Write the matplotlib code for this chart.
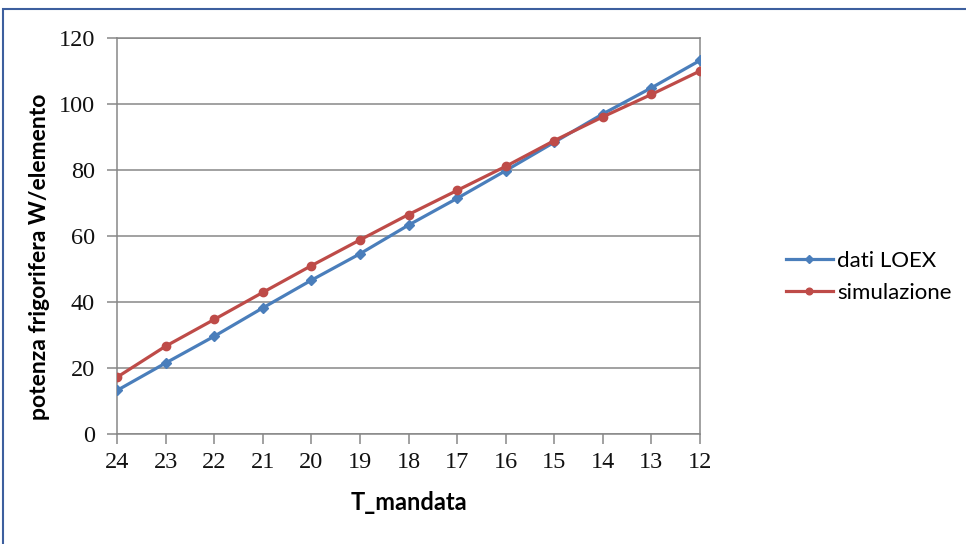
import matplotlib
matplotlib.use("Agg")
import matplotlib.pyplot as plt
from matplotlib.patches import Rectangle

categories = ["24", "23", "22", "21", "20", "19", "18", "17", "16", "15", "14", "13", "12"]
dati_loex = [13.2, 21.5, 29.6, 38.2, 46.6, 54.6, 63.3, 71.4, 79.8, 88.4, 97.0, 104.9, 113.2]
simulazione = [17.2, 26.6, 34.7, 42.9, 51.0, 58.8, 66.5, 73.8, 81.1, 88.9, 96.1, 102.9, 110.0]
y_ticks = [0, 20, 40, 60, 80, 100, 120]

W, H = 966, 544
fig = plt.figure(figsize=(W / 100, H / 100), dpi=100)
fig.patch.set_facecolor("white")

# outer frame (dark blue, cropped on right/bottom)
fig.add_artist(Rectangle((3 / W, -0.1), 1.2, 1 - 9 / H + 0.1, transform=fig.transFigure,
                         fill=False, edgecolor="#3d5f9e", linewidth=1.5))

ax_l, ax_r, ax_t, ax_b = 117, 700, 38, 434
ax = fig.add_axes([ax_l / W, 1 - ax_b / H, (ax_r - ax_l) / W, (ax_b - ax_t) / H])
x = list(range(len(categories)))

grid_c = "#878787"
for yv in y_ticks:
    ax.axhline(yv, color=grid_c, linewidth=1.1, zorder=1)

blue = "#4a7ebb"
red = "#be4b48"
ax.plot(x, dati_loex, color=blue, linewidth=2.3, marker="D", markersize=5.5,
        markeredgecolor=blue, label="dati LOEX", zorder=3)
ax.plot(x, simulazione, color=red, linewidth=2.3, marker="o", markersize=6,
        markeredgecolor=red, label="simulazione", zorder=3)

ax.set_xlim(0, len(categories) - 1)
ax.set_ylim(0, 120)
ax.set_xticks(x)
ax.set_xticklabels(categories)
ax.set_yticks(y_ticks)
for s in ax.spines.values():
    s.set_color(grid_c)
    s.set_linewidth(1.1)
ax.tick_params(axis="both", direction="out", length=7, width=1.1, color=grid_c,
               labelsize=17.5, labelcolor="#111111")
ax.tick_params(axis="x", pad=6)
ax.tick_params(axis="y", pad=9)
for lab in ax.get_xticklabels() + ax.get_yticklabels():
    lab.set_family("Liberation Serif")

ax.set_xlabel("T_mandata", fontsize=17, fontweight="bold", family="Lato", labelpad=13)
ax.set_ylabel("potenza frigorifera W/elemento", fontsize=16.5, fontweight="bold",
              family="Lato")
ax.yaxis.set_label_coords((50 - ax_l) / (ax_r - ax_l), (ax_b - 257) / (ax_b - ax_t))

leg = fig.legend(loc="center left", bbox_to_anchor=(766 / W, 1 - 277 / H), frameon=False,
                 prop={"family": "Lato", "size": 16}, handlelength=2.1, handletextpad=0.2,
                 labelspacing=0.55, markerscale=0.8)

fig.savefig("out.png", dpi=100)
